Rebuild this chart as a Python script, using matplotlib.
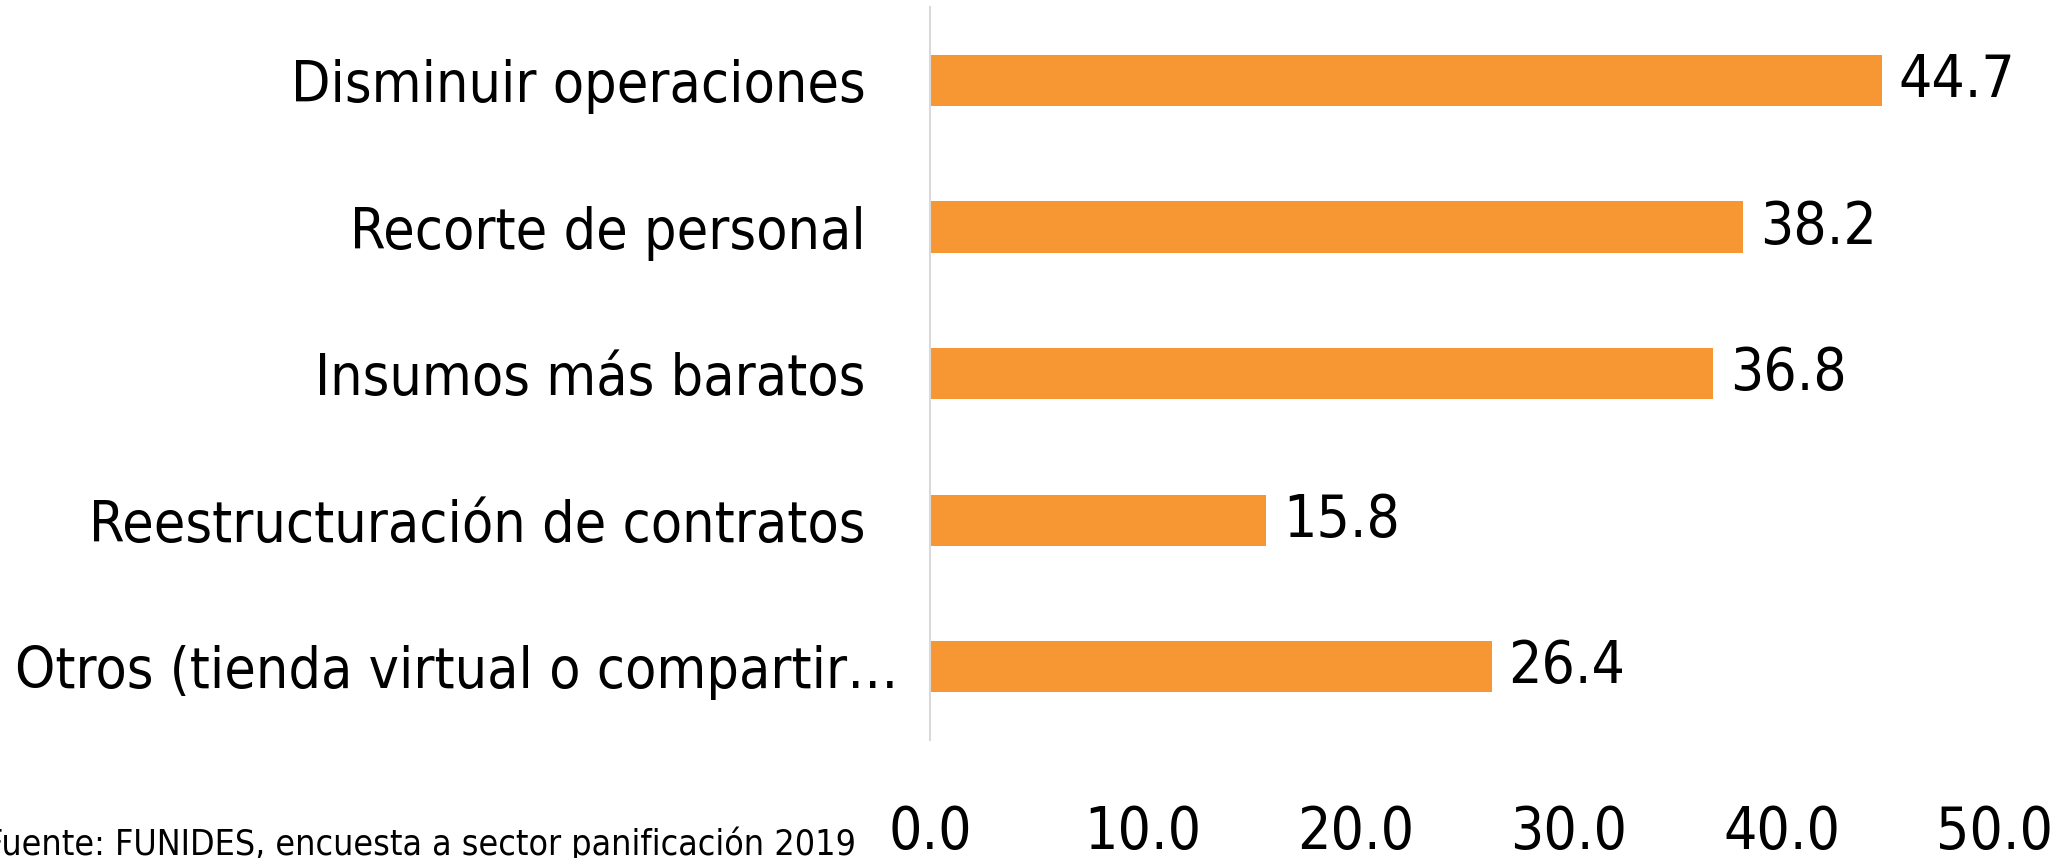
import numpy as np
import matplotlib
matplotlib.use("Agg")
import matplotlib.pyplot as plt

plt.rcParams['font.family'] = ['DejaVu Sans']
plt.rcParams['font.stretch'] = 'condensed'

categorias = ['Disminuir operaciones  ', 'Recorte de personal  ', 'Insumos más baratos  ',
              'Reestructuración de contratos  ', 'Otros (tienda virtual o compartir…']
valores = [44.7, 38.2, 36.8, 15.8, 26.4]
xticks = [0, 10, 20, 30, 40, 50]
fuente = 'Fuente: FUNIDES, encuesta a sector panificación 2019'

fig = plt.figure(figsize=(20.71, 8.58), dpi=100)
ax = fig.add_axes([0.449, 0.1375, 0.514, 0.854])

ind = np.arange(len(categorias))
bars = ax.barh(ind, valores, height=0.35, color='#F79733')
ax.set_ylim(len(categorias) - 0.5, -0.5)
ax.set_xlim(0, 50)

ax.set_yticks(ind)
ax.set_yticklabels(categorias, fontsize=41)
ax.set_xticks(xticks)
ax.set_xticklabels(['%.1f' % t for t in xticks], fontsize=42)
ax.tick_params(axis='y', length=0, pad=23)
ax.tick_params(axis='x', length=0, pad=46)

for s in ['top', 'right', 'bottom']:
    ax.spines[s].set_visible(False)
ax.spines['left'].set_color('#d9d9d9')
ax.spines['left'].set_linewidth(1.5)

for b, v in zip(bars, valores):
    ax.annotate('%.1f' % v, (b.get_width(), b.get_y() + b.get_height() / 2),
                xytext=(12, 0), textcoords='offset points',
                ha='left', va='center', fontsize=42)

fig.text(856 / 2071, -0.005, fuente, ha='right', va='bottom', fontsize=25.7)

fig.savefig('out.png', dpi=100)
